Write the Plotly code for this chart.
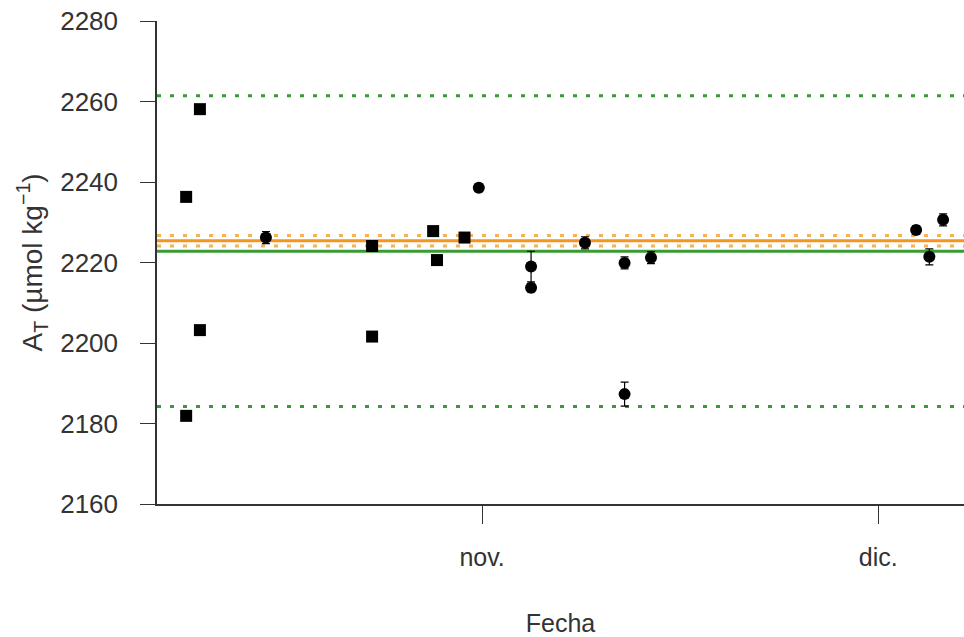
import plotly.graph_objects as go

# --- data ---
sq_dates = ["2019-10-09 14:00", "2019-10-09 14:00", "2019-10-10 15:00", "2019-10-10 15:00",
            "2019-10-23 16:00", "2019-10-23 16:00", "2019-10-28 07:00", "2019-10-28 14:00",
            "2019-10-30 16:00"]
sq_values = [2236.3, 2181.9, 2258.1, 2203.2, 2224.1, 2201.6, 2227.8, 2220.6, 2226.2]
sq_err = [1.0, 1.0, 1.0, 1.0, 1.0, 1.0, 1.0, 1.0, 1.0]

ci_dates = ["2019-10-15 15:00", "2019-10-31 18:00", "2019-11-04 17:00", "2019-11-04 17:00",
            "2019-11-08 19:00", "2019-11-11 19:00", "2019-11-11 19:00", "2019-11-13 19:00",
            "2019-12-03 21:00", "2019-12-04 21:00", "2019-12-05 22:00"]
ci_values = [2226.2, 2238.6, 2219.0, 2213.7, 2224.9, 2219.9, 2187.3, 2221.2,
             2228.1, 2221.4, 2230.6]
ci_err = [1.5, 1.0, 3.8, 1.0, 1.5, 1.5, 3.0, 1.5, 1.0, 2.0, 1.5]

green_mean = 2222.8
green_limits = [2184.2, 2261.4]
orange_mean = 2225.4
orange_limits = [2224.1, 2226.7]

x_range = ["2019-10-07 09:00", "2019-12-07 12:00"]
tick_vals = ["2019-11-01", "2019-12-01"]
tick_text = ["nov.", "dic."]

FONT = "Liberation Sans, Arial, sans-serif"
GREEN = "#3a9a35"
ORANGE = "#f7931e"
ORANGE_L = "#f9b04e"
TXT = "#333333"

fig = go.Figure()

def hline(y, color, dash, width):
    fig.add_trace(go.Scatter(x=x_range, y=[y, y], mode="lines",
                             line=dict(color=color, dash=dash, width=width),
                             hoverinfo="skip", showlegend=False, cliponaxis=False))

for v in green_limits:
    hline(v, GREEN, "4px,9px", 3)
hline(green_mean, GREEN, "solid", 3)
for v in orange_limits:
    hline(v, ORANGE_L, "4px,9px", 3)
hline(orange_mean, ORANGE, "solid", 3)

fig.add_trace(go.Scatter(
    x=sq_dates, y=sq_values, mode="markers",
    marker=dict(symbol="square", size=12, color="black"),
    error_y=dict(type="data", array=sq_err, color="black", thickness=1.2, width=4),
    showlegend=False))
fig.add_trace(go.Scatter(
    x=ci_dates, y=ci_values, mode="markers",
    marker=dict(symbol="circle", size=12, color="black"),
    error_y=dict(type="data", array=ci_err, color="black", thickness=1.2, width=4),
    showlegend=False))

fig.update_layout(
    width=964, height=637,
    margin=dict(l=157, r=0, t=21, b=133),
    plot_bgcolor="white", paper_bgcolor="white",
    font=dict(family=FONT, size=25, color=TXT),
    xaxis=dict(type="date", range=x_range, tickvals=tick_vals, ticktext=tick_text,
               showgrid=False, zeroline=False, showline=True, linecolor=TXT,
               linewidth=1.5, ticks="outside", ticklen=18, tickcolor=TXT,
               tickfont=dict(size=25), ticklabelstandoff=12,
               title=dict(text="Fecha", font=dict(size=25), standoff=48)),
    yaxis=dict(range=[2160, 2280], tickvals=[2160, 2180, 2200, 2220, 2240, 2260, 2280],
               showgrid=False, zeroline=False, showline=True, linecolor=TXT,
               linewidth=1.5, ticks="outside", ticklen=15, tickcolor=TXT,
               tickfont=dict(size=26), ticklabelstandoff=17),
    annotations=[dict(text="A<sub>T</sub> (µmol kg<sup>−1</sup>)", textangle=-90,
                      xref="paper", yref="paper", x=-0.155, y=0.5,
                      xanchor="center", yanchor="middle",
                      showarrow=False, font=dict(size=28, color=TXT))],
)

fig.write_html("out.html", config={"displayModeBar": False},
               post_script="document.body.style.margin='0';")
